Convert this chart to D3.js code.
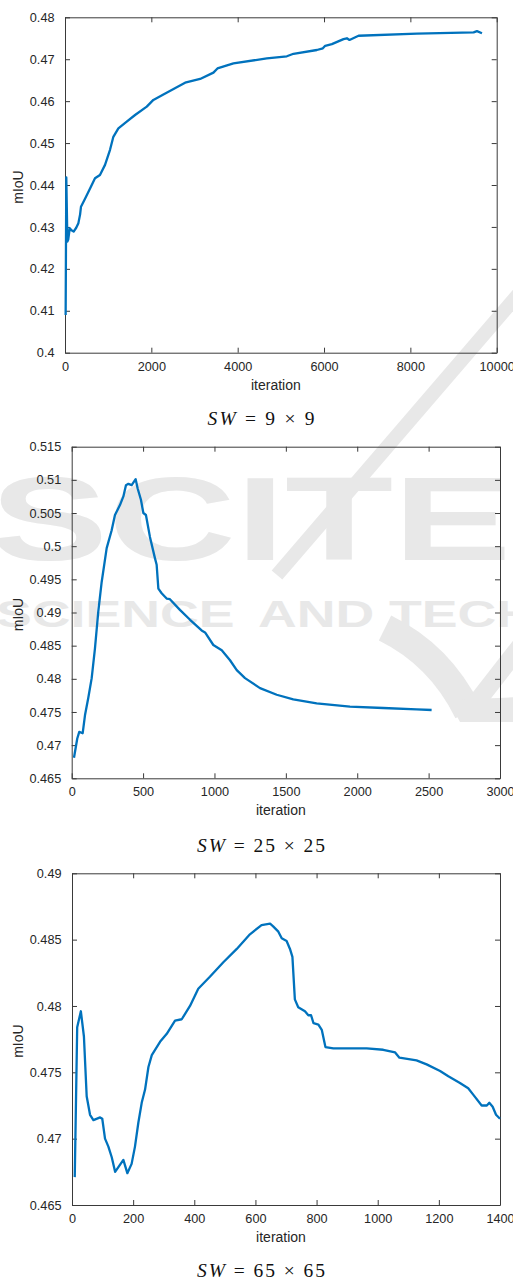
<!DOCTYPE html>
<html><head><meta charset="utf-8">
<script src="https://cdn.jsdelivr.net/npm/d3@7"></script>
<style>body{margin:0;background:#fff}svg{display:block}</style>
</head><body>
<svg id="c" width="513" height="1279"></svg>
<script>
// ---- data: SW = 9x9 ----
const iters1 = [15, 30, 55, 75, 110, 150, 200, 260, 310, 350, 370, 464, 600, 695, 810, 927, 1043, 1120, 1236, 1430, 1623, 1894, 2047, 2279, 2589, 2782, 3130, 3438, 3531, 3902, 4675, 5139, 5293, 5834, 5973, 6027, 6182, 6451, 6530, 6590, 6800, 8152, 9465, 9543, 9659];
const miou1 = [0.409, 0.4418, 0.4265, 0.4270, 0.4297, 0.4292, 0.4289, 0.4298, 0.4309, 0.4330, 0.4348, 0.4367, 0.4396, 0.4416, 0.4424, 0.4448, 0.4484, 0.4515, 0.4535, 0.4551, 0.4567, 0.4587, 0.4603, 0.4616, 0.4633, 0.4644, 0.4653, 0.4668, 0.4678, 0.4690, 0.4702, 0.4707, 0.4713, 0.4722, 0.4726, 0.4732, 0.4736, 0.4748, 0.4750, 0.4746, 0.4756, 0.4761, 0.4764, 0.4767, 0.4762];
// ---- data: SW = 25x25 ----
const iters2 = [16, 39, 53, 77, 93, 116, 140, 163, 186, 210, 245, 280, 303, 338, 362, 380, 397, 420, 448, 462, 485, 502, 520, 548, 583, 595, 607, 630, 665, 688, 758, 829, 910, 934, 992, 1051, 1109, 1156, 1214, 1319, 1436, 1552, 1716, 1949, 2182, 2416, 2521];
const miou2 = [0.4681, 0.4710, 0.4720, 0.4718, 0.4745, 0.4771, 0.4801, 0.4846, 0.4901, 0.4946, 0.4997, 0.5024, 0.5047, 0.5062, 0.5075, 0.5092, 0.5094, 0.5092, 0.5101, 0.5087, 0.5070, 0.5050, 0.5047, 0.5014, 0.4982, 0.4972, 0.4936, 0.4929, 0.4921, 0.4920, 0.4904, 0.4889, 0.4873, 0.4870, 0.4851, 0.4843, 0.4828, 0.4813, 0.4801, 0.4786, 0.4776, 0.4769, 0.4763, 0.4758, 0.4756, 0.4754, 0.4753];
// ---- data: SW = 65x65 ----
const iters3 = [9, 17, 29, 39, 48, 59, 70, 92, 99, 108, 119, 130, 141, 168, 181, 195, 206, 217, 228, 239, 250, 261, 288, 310, 337, 359, 386, 413, 451, 495, 539, 582, 620, 648, 658, 675, 686, 702, 713, 721, 729, 740, 762, 773, 782, 790, 806, 817, 829, 855, 909, 964, 1018, 1057, 1071, 1127, 1160, 1204, 1231, 1269, 1296, 1313, 1340, 1357, 1365, 1376, 1387, 1400];
const miou3 = [0.4671, 0.4784, 0.4796, 0.4777, 0.4732, 0.4718, 0.4714, 0.4716, 0.4715, 0.4700, 0.4694, 0.4686, 0.4675, 0.4684, 0.4674, 0.4681, 0.4694, 0.4712, 0.4727, 0.4737, 0.4754, 0.4763, 0.4773, 0.4779, 0.4789, 0.4790, 0.4800, 0.4813, 0.4822, 0.4833, 0.4843, 0.4854, 0.4861, 0.4862, 0.4860, 0.4856, 0.4851, 0.4849, 0.4843, 0.4837, 0.4805, 0.4799, 0.4796, 0.4793, 0.4793, 0.4787, 0.4786, 0.4782, 0.4769, 0.4768, 0.4768, 0.4768, 0.4767, 0.4765, 0.4761, 0.4759, 0.4756, 0.4751, 0.4747, 0.4742, 0.4738, 0.4733, 0.4725, 0.4725, 0.4727, 0.4724, 0.4718, 0.4715];

// ---- ticks ----
const xTicks1 = [0, 2000, 4000, 6000, 8000, 10000];
const yTicks1 = [0.40, 0.41, 0.42, 0.43, 0.44, 0.45, 0.46, 0.47, 0.48];
const yTickLabels1 = ["0.4", "0.41", "0.42", "0.43", "0.44", "0.45", "0.46", "0.47", "0.48"];
const xTicks2 = [0, 500, 1000, 1500, 2000, 2500, 3000];
const yTicks2 = [0.465, 0.47, 0.475, 0.48, 0.485, 0.49, 0.495, 0.5, 0.505, 0.51, 0.515];
const yTickLabels2 = ["0.465", "0.47", "0.475", "0.48", "0.485", "0.49", "0.495", "0.5", "0.505", "0.51", "0.515"];
const xTicks3 = [0, 200, 400, 600, 800, 1000, 1200, 1400];
const yTicks3 = [0.465, 0.47, 0.475, 0.48, 0.485, 0.49];
const yTickLabels3 = ["0.465", "0.47", "0.475", "0.48", "0.485", "0.49"];

const captionSizes = ["9 × 9", "25 × 25", "65 × 65"];
const xLabel = "iteration";
const yLabel = "mIoU";
const wmBig = "SCITE";
const wmSmall = ["SCIENCE", "AND", "TECH"];

const svg = d3.select("#c");
const sans = "'Liberation Sans', Arial, Helvetica, sans-serif";
const ink = "#262626";

// ---- faint watermark ----
const wm = svg.append("g").attr("fill", "#e8e8e8").attr("font-family", sans).attr("font-weight", "bold");
wm.append("text").attr("transform", "translate(-10,560) scale(1.5,1)").attr("font-size", 118).text(wmBig);
const smallX = [-4, 258, 389];
wmSmall.forEach((w, i) => {
  wm.append("text").attr("transform", `translate(${smallX[i]},627) scale(1.45,1)`).attr("font-size", 37).text(w);
});
const wmStroke = svg.append("g").attr("fill", "none").attr("stroke", "#e8e8e8");
wmStroke.append("path").attr("d", "M522,290 L277,575").attr("stroke-width", 14);
wmStroke.append("path").attr("d", "M385,628 Q440,655 468,712").attr("stroke-width", 28);
wmStroke.append("path").attr("d", "M472,708 L525,640").attr("stroke-width", 18);
svg.append("path").attr("d", "M448,700 L520,697 L520,722 L460,722 Z").attr("fill", "#e8e8e8");

const panels = [
  { x: iters1, y: miou1, xDom: [0, 10000], yDom: [0.4, 0.48], xT: xTicks1, yT: yTicks1, yL: yTickLabels1, box: [65, 496.7, 17.3, 352.7], cap: captionSizes[0], capY: 425, capW: 107 },
  { x: iters2, y: miou2, xDom: [0, 3000], yDom: [0.465, 0.515], xT: xTicks2, yT: yTicks2, yL: yTickLabels2, box: [71.7, 500, 446.7, 778.3], cap: captionSizes[1], capY: 851.7, capW: 128 },
  { x: iters3, y: miou3, xDom: [0, 1400], yDom: [0.465, 0.49], xT: xTicks3, yT: yTicks3, yL: yTickLabels3, box: [72, 500, 873.3, 1205], cap: captionSizes[2], capY: 1276.7, capW: 128 }
];

panels.forEach(p => {
  const [l, r, t, b] = p.box;
  const xs = d3.scaleLinear().domain(p.xDom).range([l, r]);
  const ys = d3.scaleLinear().domain(p.yDom).range([b, t]);
  const g = svg.append("g");

  const style = sel => {
    sel.selectAll(".domain").attr("stroke", "#3a3a3a").attr("stroke-width", 1);
    sel.selectAll(".tick line").attr("stroke", "#3a3a3a").attr("stroke-width", 1);
    sel.selectAll("text").attr("fill", ink).attr("font-family", sans).attr("font-size", 12.7);
  };

  g.append("g").attr("transform", `translate(0,${b})`)
    .call(d3.axisBottom(xs).tickValues(p.xT).tickFormat(d3.format("d")).tickSizeInner(-5).tickSizeOuter(0).tickPadding(9))
    .call(style);
  g.append("g").attr("transform", `translate(0,${t})`)
    .call(d3.axisTop(xs).tickValues(p.xT).tickFormat("").tickSizeInner(-5).tickSizeOuter(0))
    .call(style);
  g.append("g").attr("transform", `translate(${l},0)`)
    .call(d3.axisLeft(ys).tickValues(p.yT).tickFormat((d, i) => p.yL[i]).tickSizeInner(-5).tickSizeOuter(0).tickPadding(10.5))
    .call(style);
  g.append("g").attr("transform", `translate(${r},0)`)
    .call(d3.axisRight(ys).tickValues(p.yT).tickFormat("").tickSizeInner(-5).tickSizeOuter(0))
    .call(style);

  const pts = p.x.map((v, i) => [v, p.y[i]]);
  g.append("path").datum(pts)
    .attr("fill", "none").attr("stroke", "#0072BD").attr("stroke-width", 2.3)
    .attr("stroke-linejoin", "round").attr("stroke-linecap", "butt")
    .attr("d", d3.line().x(d => xs(d[0])).y(d => ys(d[1])));

  g.append("text").attr("x", (l + r) / 2 - 5).attr("y", b + 37)
    .attr("text-anchor", "middle").attr("font-family", sans).attr("font-size", 14).attr("fill", ink)
    .text(xLabel);
  g.append("text").attr("transform", `translate(23,${(t + b) / 2 + 2}) rotate(-90)`)
    .attr("text-anchor", "middle").attr("font-family", sans).attr("font-size", 14).attr("fill", ink)
    .text(yLabel);

  const cap = g.append("text").attr("x", 261).attr("y", p.capY).attr("text-anchor", "middle")
    .attr("font-family", "'Liberation Serif', 'Times New Roman', serif").attr("font-size", 19.5).attr("fill", "#111")
    .attr("textLength", p.capW).attr("lengthAdjust", "spacing");
  cap.append("tspan").attr("font-style", "italic").text("SW");
  cap.append("tspan").text(" = " + p.cap);
});
</script>
</body></html>
